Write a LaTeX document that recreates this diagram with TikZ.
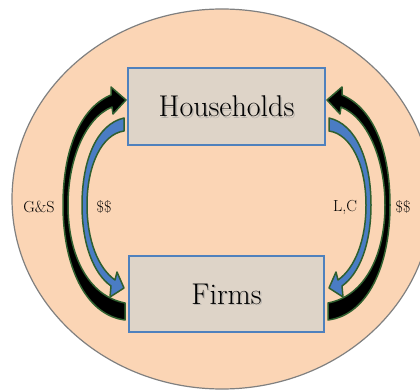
\documentclass[tikz,border=0pt]{standalone}
\definecolor{bgpeach}{HTML}{FBD5B5}
\definecolor{ellline}{HTML}{808080}
\definecolor{boxfill}{HTML}{DED4C8}
\definecolor{boxline}{HTML}{4F81BD}
\definecolor{arrgreen}{HTML}{2F5F2F}
\definecolor{arrblue}{HTML}{4A7CC4}
\tikzset{
  ellipsestyle/.style={fill=bgpeach, draw=ellline, line width=1.2pt},
  boxstyle/.style={rectangle, fill=boxfill, draw=boxline, line width=1.5pt, inner sep=0pt},
  bigtext/.style={font=\fontsize{30}{36}\selectfont, inner sep=0pt},
  shadowtext/.style={bigtext, text=black!45, opacity=0.5},
  smalltext/.style={font=\fontsize{16}{19}\selectfont, inner sep=0pt},
  blackarrow/.style={fill=black, draw=arrgreen, line width=1.5pt, line join=round},
  bluearrow/.style={fill=arrblue, draw=arrgreen, line width=1.5pt, line join=round}
}
\begin{document}
\begin{tikzpicture}[x=1pt, y=-1pt]
\useasboundingbox (0,0) rectangle (420,390);
\clip (0,0) rectangle (420,390);
\fill[white] (0,0) rectangle (420,390);
\draw[ellipsestyle] (222,199) ellipse [x radius=210pt, y radius=190pt];

% boxes
\node[boxstyle, minimum width=197pt, minimum height=77pt] (hh) at (226.5,106.5) {};
\node[boxstyle, minimum width=195pt, minimum height=76pt] (fm) at (226.5,294) {};
\node[shadowtext, xshift=1.3pt, yshift=-1.3pt] (hhs) at (hh.center) {Households};
\node[bigtext] (hht) at (hh.center) {Households};
\node[shadowtext, xshift=1.3pt, yshift=-1.3pt] (fms) at (fm.center) {Firms};
\node[bigtext] (fmt) at (fm.center) {Firms};

% left side arrows
\draw[blackarrow] (125,303)
  .. controls (88,296) and (68,255) .. (68,205)
  .. controls (68,160) and (85,118) .. (112,107)
  -- (113,114) -- (126,100) -- (111,87) -- (111,95)
  .. controls (80,108) and (63,150) .. (63,205)
  .. controls (63,265) and (85,315) .. (125,320)
  -- cycle;
\draw[bluearrow] (124,118)
  .. controls (97,124) and (82,160) .. (82,205)
  .. controls (82,245) and (94,274) .. (111,286)
  -- (110,297) -- (124,288) -- (117,272) -- (115,280)
  .. controls (98,268) and (87,240) .. (87,205)
  .. controls (87,165) and (102,134) .. (124,131)
  -- cycle;

% right side arrows (mirror)
\begin{scope}[xshift=453pt, xscale=-1]
\draw[blackarrow] (125,303)
  .. controls (88,296) and (68,255) .. (68,205)
  .. controls (68,160) and (85,118) .. (112,107)
  -- (113,114) -- (126,100) -- (111,87) -- (111,95)
  .. controls (80,108) and (63,150) .. (63,205)
  .. controls (63,265) and (85,315) .. (125,320)
  -- cycle;
\draw[bluearrow] (124,118)
  .. controls (97,124) and (82,160) .. (82,205)
  .. controls (82,245) and (94,274) .. (111,286)
  -- (110,297) -- (124,288) -- (117,272) -- (115,280)
  .. controls (98,268) and (87,240) .. (87,205)
  .. controls (87,165) and (102,134) .. (124,131)
  -- cycle;
\end{scope}

% labels
\node[smalltext] (gs) at (39,207) {G\&S};
\node[smalltext] (d1) at (104,207) {\$\$};
\node[smalltext] (lc) at (345,207) {L,C};
\node[smalltext] (d2) at (403,207) {\$\$};
\end{tikzpicture}
\end{document}
